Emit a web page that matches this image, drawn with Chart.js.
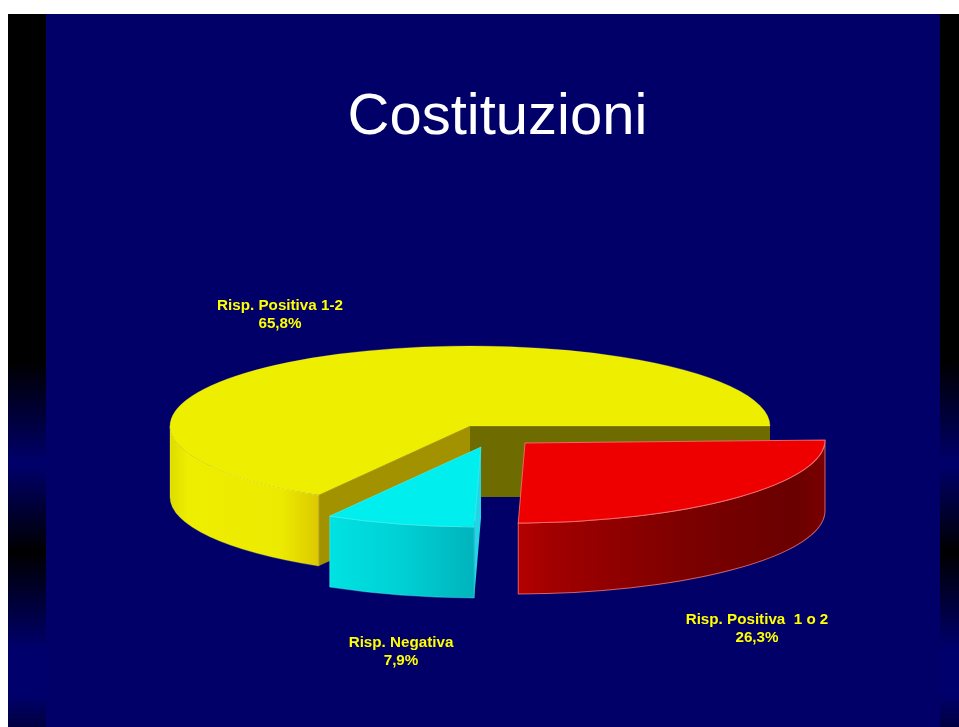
<!DOCTYPE html>
<html>
<head>
<meta charset="utf-8">
<style>html,body{margin:0;padding:0;background:#fff;overflow:hidden}canvas{display:block}</style>
<script src="https://cdn.jsdelivr.net/npm/chart.js@4/dist/chart.umd.min.js"></script>
</head>
<body>
<canvas id="c" width="959" height="727"></canvas>
<script>
const titleText = 'Costituzioni';
const categories = ['Risp. Positiva  1 o 2', 'Risp. Negativa', 'Risp. Positiva 1-2'];
const values = [26.3, 7.9, 65.8];
const topColors = ['#ee0000', '#00eeee', '#eeee00'];
const edgeColors = ['rgba(255,130,130,0.75)', 'rgba(120,255,255,0.35)', 'rgba(255,255,90,0.25)'];
const startWall = ['#700000', '#22d4e4', '#a39200'];
const endWall = ['#700000', '#00c0c0', '#6e6c00'];
const sideStops = [
  [[0, '#b40000'], [0.12, '#a00000'], [0.55, '#7c0000'], [0.9, '#6a0000'], [1, '#7a0000']],
  [[0, '#00e2e2'], [0.5, '#00d0d4'], [1, '#00b4bc']],
  [[0, '#dcdc00'], [0.12, '#eeee00'], [0.75, '#ecea00'], [1, '#dcc800']]
];
const sliceShiftX = [55, 11, 0];
const sliceShiftY = [17, 21, 0];
const sliceSkew = [-0.01, 0, 0];
const labelX = [757, 401, 280];
const labelY = [624, 647, 310];

const SQUASH = 80 / 300, DEPTH = 71, WARP = 3.4 * Math.PI / 180;
const warp = a => Math.sin(a) > 0 ? a - WARP * Math.sin(a) : a;

const pie3d = {
  id: 'pie3d',
  beforeDraw(chart) {
    const { ctx, width: W, height: H } = chart;
    ctx.save();
    ctx.fillStyle = '#ffffff'; ctx.fillRect(0, 0, W, H);
    ctx.fillStyle = '#000068'; ctx.fillRect(8, 14, W - 8, H - 14);
    const g = ctx.createLinearGradient(0, 14, 0, H);
    const n = y => (y - 14) / (H - 14);
    [[14, '#000000'], [362, '#000000'], [464, '#00006c'], [552, '#000000'], [649, '#00006c'], [695, '#00006c'], [727, '#000040']]
      .forEach(s => g.addColorStop(n(s[0]), s[1]));
    ctx.fillStyle = g;
    ctx.fillRect(8, 14, 38, H - 14);
    ctx.fillRect(940, 14, W - 940, H - 14);
    ctx.fillStyle = '#ffffff';
    ctx.font = '58px "Liberation Sans", Arial, sans-serif';
    ctx.textAlign = 'center'; ctx.textBaseline = 'alphabetic';
    ctx.fillText(titleText, 497.5, 134);
    ctx.restore();
  },
  beforeDatasetDraw(chart, args) {
    const ctx = chart.ctx;
    const arcs = chart.getDatasetMeta(args.index).data;
    [2, 1, 0].forEach(i => {
      const arc = arcs[i];
      const p = arc.getProps(['x', 'y', 'startAngle', 'endAngle', 'outerRadius'], true);
      const cx = p.x + sliceShiftX[i], cy = p.y + sliceShiftY[i];
      const rx = p.outerRadius, ry = p.outerRadius * SQUASH;
      const a0 = warp(p.startAngle), a1 = warp(p.endAngle);
      const pt = a => [cx + rx * Math.cos(a), cy + ry * Math.sin(a)];
      ctx.save();
      ctx.translate(cx, cy);
      ctx.transform(1, sliceSkew[i], 0, 1, 0, 0);
      ctx.translate(-cx, -cy);
      const wall = (a, col) => {
        const q = pt(a);
        ctx.beginPath();
        ctx.moveTo(cx, cy); ctx.lineTo(q[0], q[1]);
        ctx.lineTo(q[0], q[1] + DEPTH); ctx.lineTo(cx, cy + DEPTH);
        ctx.closePath();
        ctx.fillStyle = col; ctx.fill();
      };
      wall(a1, endWall[i]);
      wall(a0, startWall[i]);
      const s0 = Math.max(a0, 0), s1 = Math.min(a1, Math.PI);
      if (s1 > s0) {
        const xa = Math.cos(s1) * rx + cx, xb = Math.cos(s0) * rx + cx;
        const g = ctx.createLinearGradient(xa, 0, xb, 0);
        sideStops[i].forEach(s => g.addColorStop(s[0], s[1]));
        ctx.beginPath();
        ctx.ellipse(cx, cy, rx, ry, 0, s0, s1);
        ctx.ellipse(cx, cy + DEPTH, rx, ry, 0, s1, s0, true);
        ctx.closePath();
        ctx.fillStyle = g; ctx.fill();
        ctx.strokeStyle = edgeColors[i]; ctx.lineWidth = 1; ctx.stroke();
      }
      ctx.beginPath();
      ctx.moveTo(cx, cy);
      ctx.ellipse(cx, cy, rx, ry, 0, a0, a1);
      ctx.closePath();
      ctx.fillStyle = topColors[i]; ctx.fill();
      ctx.strokeStyle = edgeColors[i]; ctx.lineWidth = 1; ctx.stroke();
      ctx.restore();
    });
    return false;
  },
  afterDatasetsDraw(chart) {
    const ctx = chart.ctx;
    ctx.save();
    ctx.fillStyle = '#ffff00';
    ctx.font = 'bold 15.2px "Liberation Sans", Arial, sans-serif';
    ctx.textAlign = 'center'; ctx.textBaseline = 'alphabetic';
    categories.forEach((c, i) => {
      ctx.fillText(c, labelX[i], labelY[i]);
      ctx.fillText(values[i].toFixed(1).replace('.', ',') + '%', labelX[i], labelY[i] + 18);
    });
    ctx.restore();
  }
};

new Chart(document.getElementById('c'), {
  type: 'pie',
  data: { labels: categories, datasets: [{ data: values, backgroundColor: topColors, borderWidth: 0 }] },
  options: {
    responsive: false,
    animation: false,
    rotation: 90,
    layout: { padding: { left: 170, right: 189, top: 126, bottom: 1 } },
    plugins: { legend: { display: false }, tooltip: { enabled: false }, title: { display: false } }
  },
  plugins: [pie3d]
});
</script>
</body>
</html>
